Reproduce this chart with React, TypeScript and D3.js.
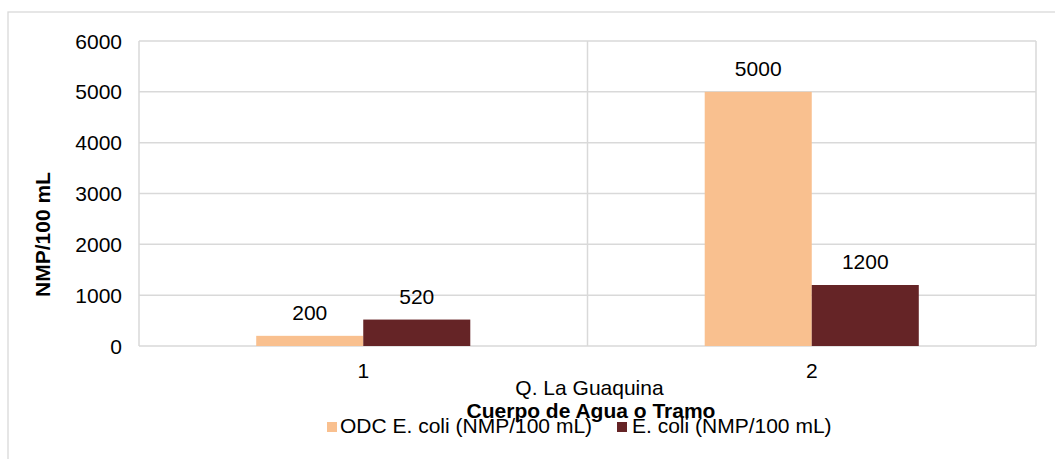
import React from "react";
import * as d3 from "d3";

const categories = ["1", "2"];
const seriesNames = ["ODC E. coli (NMP/100 mL)", "E. coli (NMP/100 mL)"];
const odcValues = [200, 5000];
const ecoliValues = [520, 1200];
const yTicks = [0, 1000, 2000, 3000, 4000, 5000, 6000];
const colors = ["#F9C08F", "#652426"];
const groupLabel = "Q. La Guaquina";
const xTitle = "Cuerpo de Agua o Tramo";
const yTitle = "NMP/100 mL";

const W = 1055;
const H = 459;
const plot = { left: 139, right: 1036, top: 41, bottom: 346 };
const FONT = "'Liberation Sans', Arial, sans-serif";
const FS = 21;

export default function App() {
  const x = d3.scaleBand<string>().domain(categories).range([plot.left, plot.right]).padding(0);
  const bw = x.bandwidth();
  const inner = d3
    .scaleBand<string>()
    .domain(seriesNames)
    .range([0, bw])
    .paddingInner(0)
    .paddingOuter(1.095);
  const y = d3.scaleLinear().domain([0, 6000]).range([plot.bottom, plot.top]);
  const series = [odcValues, ecoliValues];
  const grid = "#D9D9D9";
  const legendPos = [
    { sx: 327, tx: 340 },
    { sx: 617, tx: 632 },
  ];

  return (
    <svg
      width={W}
      height={H}
      style={{ position: "absolute", left: 0, top: 0, background: "#fff" }}
      fontFamily={FONT}
    >
      <rect x={0} y={0} width={W} height={H} fill="#fff" />
      <rect x={8} y={12} width={W + 20} height={H + 20} fill="none" stroke={grid} strokeWidth={1.3} />
      {yTicks.map((t) => (
        <line key={t} x1={plot.left} x2={plot.right} y1={y(t)} y2={y(t)} stroke={grid} strokeWidth={1.5} />
      ))}
      {[...categories.map((c) => x(c)!), plot.right].map((v, i) => (
        <line key={i} x1={v} x2={v} y1={plot.top} y2={plot.bottom} stroke={grid} strokeWidth={1.5} />
      ))}
      {categories.map((c, ci) =>
        seriesNames.map((s, si) => {
          const v = series[si][ci];
          const bx = x(c)! + inner(s)!;
          return (
            <g key={c + s}>
              <rect x={bx} y={y(v)} width={inner.bandwidth()} height={y(0) - y(v)} fill={colors[si]} />
              <text
                x={bx + inner.bandwidth() / 2}
                y={y(v) - 16}
                textAnchor="middle"
                fontSize={FS}
                fill="#000"
              >
                {v}
              </text>
            </g>
          );
        })
      )}
      {yTicks.map((t) => (
        <text key={t} x={122} y={y(t) + 7.5} textAnchor="end" fontSize={FS} fill="#000">
          {t}
        </text>
      ))}
      {categories.map((c) => (
        <text key={c} x={x(c)! + bw / 2} y={378} textAnchor="middle" fontSize={FS} fill="#000">
          {c}
        </text>
      ))}
      <text x={(plot.left + plot.right) / 2 + 2} y={395} textAnchor="middle" fontSize={FS} fill="#000">
        {groupLabel}
      </text>
      <text
        transform={`translate(50, 234.5) rotate(-90)`}
        textAnchor="middle"
        fontSize={FS}
        fontWeight="bold"
        fill="#000"
      >
        {yTitle}
      </text>
      {seriesNames.map((s, i) => (
        <g key={s}>
          <rect x={legendPos[i].sx} y={422} width={10} height={10} fill={colors[i]} />
          <text x={legendPos[i].tx} y={433} fontSize={FS} fill="#000">
            {s}
          </text>
        </g>
      ))}
      <text x={591} y={418} textAnchor="middle" fontSize={FS} fontWeight="bold" fill="#000">
        {xTitle}
      </text>
    </svg>
  );
}
